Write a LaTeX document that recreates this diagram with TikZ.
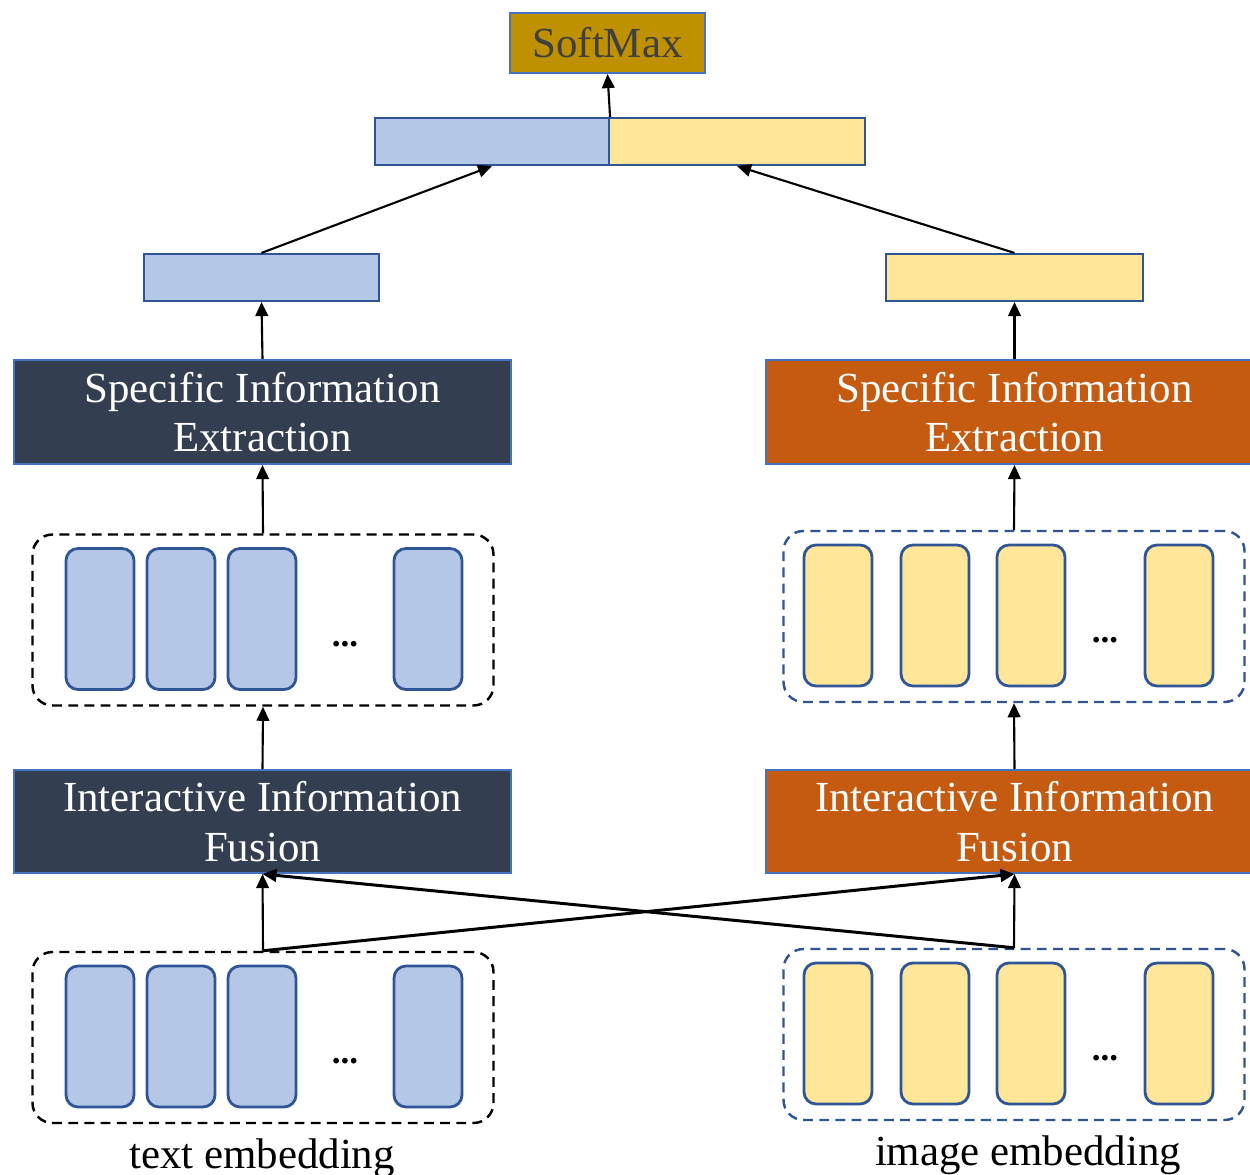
\documentclass[tikz,border=0pt]{standalone}
\usepackage{fontspec}
\setmainfont{Liberation Serif}
\usepackage{tikz}
\usetikzlibrary{arrows.meta, calc, positioning}
\usepackage{xcolor}

\definecolor{cellblue}{HTML}{B4C7E7}
\definecolor{cellyellow}{HTML}{FFE699}
\definecolor{edgeblue}{HTML}{2F5597}
\definecolor{lineblue}{HTML}{4472C4}
\definecolor{darkslate}{HTML}{333F50}
\definecolor{burnt}{HTML}{C55A11}
\definecolor{gold}{HTML}{BF9000}
\definecolor{softgray}{HTML}{404040}

\tikzset{
    bar/.style={draw=edgeblue, line width=0.6pt, minimum height=0.47cm, inner sep=0pt},
    module/.style={draw=lineblue, line width=0.6pt, minimum width=4.97cm, minimum height=1.04cm,
        text=white, align=center, inner sep=0pt, font=\fontsize{12.2}{14.3}\selectfont},
    cell/.style={draw=edgeblue, line width=0.8pt, rounded corners=0.12cm, minimum width=0.68cm,
        minimum height=1.41cm, inner sep=0pt},
    group/.style={dashed, dash pattern=on 2.8pt off 1.8pt, line width=0.7pt, rounded corners=0.2cm,
        minimum width=4.61cm, minimum height=1.71cm, inner sep=0pt},
    link/.style={-{Triangle[length=4pt, width=3.6pt]}, line width=0.6pt},
    cross/.style={-{Triangle[length=4pt, width=3.6pt]}, line width=0.85pt}
}

\begin{document}
\begin{tikzpicture}[font=\fontsize{12.2}{14.3}\selectfont]
                \useasboundingbox (0,0) rectangle (12.5,11.75);

                \node [bar, fill=gold, draw=lineblue, minimum width=1.95cm, minimum height=0.60cm, text=softgray] (softmax) at (6.075, 11.32) {SoftMax};

                \node [bar, fill=cellblue, minimum width=2.34cm] (catL) at (4.92, 10.335) {};
                \node [bar, fill=cellyellow, minimum width=2.56cm] (catR) at (7.37, 10.335) {};

                \node [bar, fill=cellblue, minimum width=2.35cm] (vecL) at (2.615, 8.975) {};
                \node [bar, fill=cellyellow, minimum width=2.57cm] (vecR) at (10.145, 8.975) {};

                \node [module, fill=darkslate] (sieL) at (2.625, 7.63) {\raisebox{-0.5pt}{Specific Information}\\Extraction};
                \node [module, fill=burnt] (sieR) at (10.145, 7.63) {\raisebox{-0.5pt}{Specific Information}\\Extraction};

                \node [group, draw=black] (hidL) at (2.63, 5.55) {};
                \node [group, draw=edgeblue] (hidR) at (10.14, 5.585) {};

                \node [module, fill=darkslate, minimum height=1.03cm] (iifL) at (2.625, 3.535) {Interactive Information\\Fusion};
                \node [module, fill=burnt, minimum height=1.03cm] (iifR) at (10.145, 3.535) {Interactive Information\\Fusion};

                \node [group, draw=black] (embL) at (2.63, 1.375) {};
                \node [group, draw=edgeblue] (embR) at (10.14, 1.405) {};

                % token cells
                \foreach \grp in {hidL, embL} {
                    \foreach \dx in {-1.63, -0.82, -0.01, 1.65}
                        \node [cell, fill=cellblue] at ($(\grp)+(\dx,0.01)$) {};
                    \node [font=\bfseries] at ($(\grp)+(0.82,-0.24)$) {...};
                }
                \foreach \grp in {hidR, embR} {
                    \foreach \dx in {-1.76, -0.79, 0.17, 1.65}
                        \node [cell, fill=cellyellow] at ($(\grp)+(\dx,0.01)$) {};
                    \node [font=\bfseries] at ($(\grp)+(0.91,-0.24)$) {...};
                }

                \node (txtlab) at (2.62, 0.17) {text embedding};
                \node (imglab) at (10.28, 0.20) {image embedding};

                \draw [link] (catL.north east) -- (softmax.south);
                \draw [link] (vecL.north) -- (catL.south);
                \draw [link] (vecR.north) -- (catR.south);
                \draw [link] (sieL.north) -- (vecL.south);
                \draw [link] (sieR.north) -- (vecR.south);
                \draw [link] (hidL.north) -- (sieL.south);
                \draw [link] (hidR.north) -- (sieR.south);
                \draw [link] (iifL.north) -- (hidL.south);
                \draw [link] (iifR.north) -- (hidR.south);

                \draw [link] (embL.north) -- (iifL.south);
                \draw [link] (embR.north) -- (iifR.south);
                \draw [cross] (embL.north) -- (iifR.south);
                \draw [cross] (embR.north) -- (iifL.south);

            \end{tikzpicture}
\end{document}
